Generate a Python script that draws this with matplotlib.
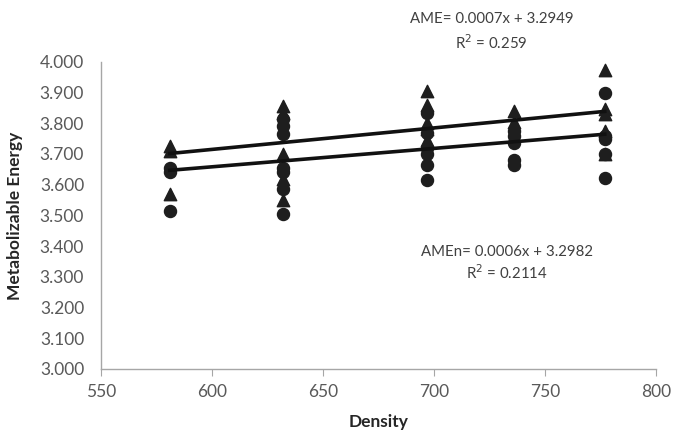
import matplotlib
matplotlib.use("Agg")
import matplotlib.pyplot as plt
import numpy as np

# Density groups and values
ame_density = [581, 581, 581,
               632, 632, 632, 632, 632,
               697, 697, 697, 697, 697,
               736, 736,
               777, 777, 777, 777, 777]
ame_values = [3.725, 3.710, 3.570,
              3.855, 3.835, 3.700, 3.620, 3.550,
              3.905, 3.860, 3.800, 3.780, 3.745,
              3.840, 3.805,
              3.975, 3.845, 3.830, 3.775, 3.700]

amen_density = [581, 581, 581,
                632, 632, 632, 632, 632, 632, 632,
                697, 697, 697, 697, 697, 697,
                736, 736, 736, 736, 736,
                777, 777, 777, 777, 777]
amen_values = [3.655, 3.640, 3.513,
               3.815, 3.790, 3.765, 3.655, 3.640, 3.585, 3.505,
               3.835, 3.770, 3.720, 3.700, 3.665, 3.615,
               3.775, 3.760, 3.735, 3.680, 3.665,
               3.900, 3.760, 3.750, 3.700, 3.622]

# Trend line coefficients as printed on the chart
ame_fit = (0.0007, 3.2949)
amen_fit = (0.0006, 3.2982)

plt.rcParams['font.family'] = ['Lato', 'DejaVu Sans']

fig = plt.figure(figsize=(6.86, 4.36), dpi=100)
ax = fig.add_axes([0.147, 0.154, 0.809, 0.704])

mark = '#1e1e1e'
ax.scatter(ame_density, ame_values, marker='^', s=80, color=mark, zorder=3)
ax.scatter(amen_density, amen_values, marker='o', s=75, color=mark, zorder=3)

xs = np.array([min(ame_density), max(ame_density)])
ax.plot(xs, ame_fit[0] * xs + ame_fit[1], color='#111111', lw=2.6, zorder=4)
xs = np.array([min(amen_density), max(amen_density)])
ax.plot(xs, amen_fit[0] * xs + amen_fit[1], color='#111111', lw=2.6, zorder=4)

ax.set_xlim(550, 800)
ax.set_ylim(3.0, 4.0)
ax.set_xticks(np.arange(550, 801, 50))
ax.set_yticks(np.arange(3.0, 4.001, 0.1))
ax.set_yticklabels(['%.3f' % v for v in np.arange(3.0, 4.001, 0.1)])

for s in ['top', 'right']:
    ax.spines[s].set_visible(False)
for s in ['left', 'bottom']:
    ax.spines[s].set_color('#a6a6a6')
    ax.spines[s].set_linewidth(1.0)

ax.tick_params(axis='x', direction='out', length=5, color='#a6a6a6',
               labelsize=12.5, labelcolor='#595959', pad=6)
ax.tick_params(axis='y', length=0, labelsize=12.5, labelcolor='#595959', pad=12)

ax.set_xlabel('Density', fontsize=12.5, fontweight='bold', color='#262626', labelpad=10)
ax.set_ylabel('Metabolizable Energy', fontsize=12.5, fontweight='bold', color='#262626', labelpad=12)

txt_color = '#404040'
ax.text(726, 4.14, 'AME= 0.0007x + 3.2949', ha='center', va='center',
        fontsize=10.8, color=txt_color, clip_on=False)
ax.text(726, 4.062, 'R$^2$ = 0.259', ha='center', va='center',
        fontsize=10.8, color=txt_color, clip_on=False)
ax.text(733, 3.382, 'AMEn= 0.0006x + 3.2982', ha='center', va='center',
        fontsize=10.8, color=txt_color)
ax.text(733, 3.314, 'R$^2$ = 0.2114', ha='center', va='center',
        fontsize=10.8, color=txt_color)

fig.savefig('out.png', dpi=100)
